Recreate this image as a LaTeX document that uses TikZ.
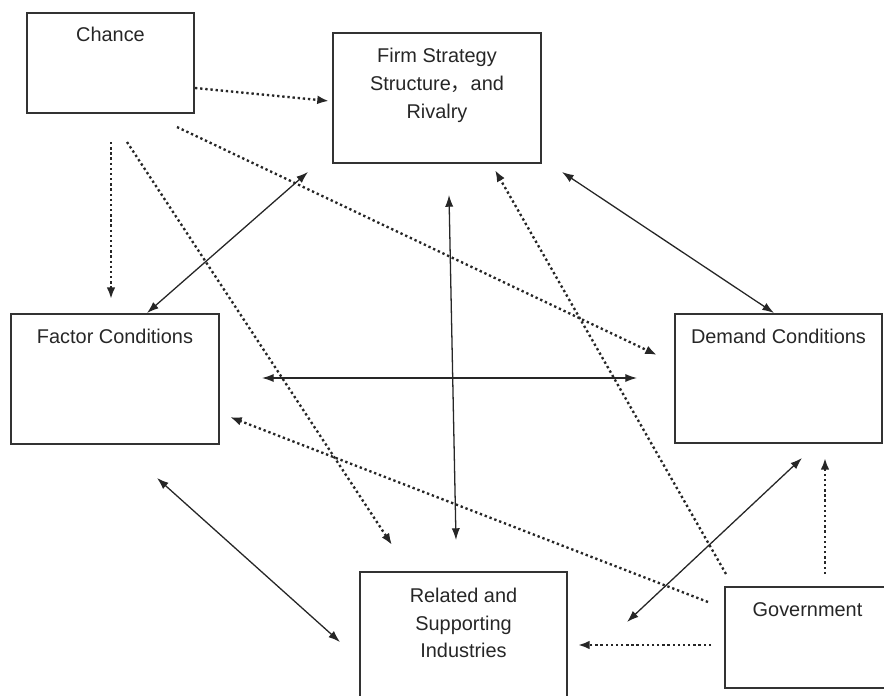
\documentclass[tikz,border=0pt]{standalone}
\usepackage{fontspec}
\setmainfont{Liberation Sans}
\newfontfamily\cjk{Noto Sans CJK SC}
\usetikzlibrary{arrows.meta,positioning}

\begin{document}
\begin{tikzpicture}[x=0.03cm,y=-0.03cm,
    box/.style={draw=black!80,line width=1.2pt,inner sep=0pt},
    boxtext/.style={inner sep=0pt,align=center,text=black!85,font=\fontsize{17}{23.5}\selectfont},
    link/.style={black!85,line width=1.1pt,{Latex[length=10pt,width=7pt]}-{Latex[length=10pt,width=7pt]}},
    cause/.style={black!85,line width=2pt,dash pattern=on 2pt off 2.4pt,-{Latex[length=10pt,width=7.5pt]}}]
  \useasboundingbox (0,0) rectangle (884,696);

  \node[box,minimum width=5.01cm,minimum height=3cm] (chance) at (110.5,63) {};
  \node[box,minimum width=6.24cm,minimum height=3.9cm] (firm) at (437,98) {};
  \node[box,minimum width=6.24cm,minimum height=3.9cm] (factor) at (115,379) {};
  \node[box,minimum width=6.21cm,minimum height=3.87cm] (demand) at (778.5,378.5) {};
  \node[box,minimum width=6.21cm,minimum height=3.9cm] (related) at (463.5,637) {};
  \node[box,minimum width=4.95cm,minimum height=3.03cm] (gov) at (807.5,637.5) {};

  \node[boxtext,below=0.45cm of chance.north] {Chance};
  \node[boxtext,below=0.48cm of firm.north] {Firm Strategy\\Structure{\cjk ，}and\\Rivalry};
  \node[boxtext,below=0.48cm of factor.north] {Factor Conditions};
  \node[boxtext,below=0.48cm of demand.north] {Demand Conditions};
  \node[boxtext,below=0.5cm of related.north] {Related and\\Supporting\\Industries};
  \node[boxtext,below=0.48cm of gov.north] {Government};

  \coordinate (chanceFirm) at (195,88);    \coordinate (firmW) at (329,101);
  \coordinate (chanceDem) at (177,127);    \coordinate (demW) at (657,355);
  \coordinate (chanceFac) at (111,142);    \coordinate (facN) at (111,299);
  \coordinate (chanceRel) at (127,142);    \coordinate (relNW) at (392,545);
  \coordinate (firmSW) at (308,172);       \coordinate (facNE) at (147,313);
  \coordinate (firmS) at (449,195);        \coordinate (relN) at (456,540);
  \coordinate (firmSE) at (562,172);       \coordinate (demN) at (774,313);
  \coordinate (facE) at (262,378);         \coordinate (demWW) at (637,378);
  \coordinate (govFac) at (708,602);       \coordinate (facSE) at (230,417);
  \coordinate (govFirm) at (726,574);      \coordinate (firmS2) at (495,170);
  \coordinate (relE) at (627,622);         \coordinate (demSW) at (802,458);
  \coordinate (govRel) at (711,645);       \coordinate (relE2) at (578,645);
  \coordinate (govDem) at (825,574);       \coordinate (demS) at (825,458);
  \coordinate (facS) at (157,478);         \coordinate (relW) at (340,642);

  \draw[cause] (chanceFirm) -- (firmW);
  \draw[cause] (chanceDem) -- (demW);
  \draw[cause] (chanceFac) -- (facN);
  \draw[cause] (chanceRel) -- (relNW);
  \draw[link] (firmSW) -- (facNE);
  \draw[link] (firmS) -- (relN);
  \draw[link] (firmSE) -- (demN);
  \draw[link] (facE) -- (demWW);
  \draw[cause] (govFac) -- (facSE);
  \draw[cause] (govFirm) -- (firmS2);
  \draw[link] (relE) -- (demSW);
  \draw[cause] (govRel) -- (relE2);
  \draw[cause] (govDem) -- (demS);
  \draw[link] (facS) -- (relW);
\end{tikzpicture}
\end{document}
